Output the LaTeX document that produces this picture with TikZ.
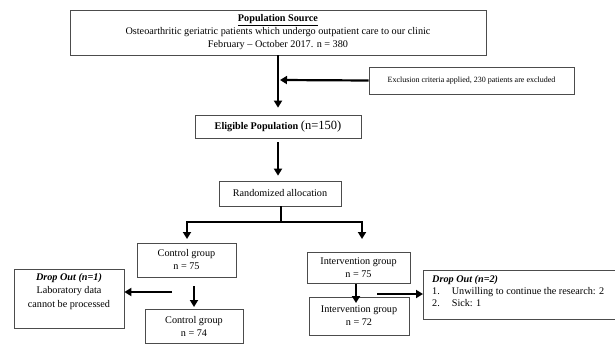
\documentclass[tikz,border=0pt]{standalone}
\usepackage{fontspec}
\setmainfont{Liberation Serif}
\usetikzlibrary{arrows.meta,calc}
\begin{document}
\begin{tikzpicture}[x=1pt,y=-1pt,
  box/.style={draw=black!70,line width=0.7pt,inner sep=2pt,align=center,font=\fontsize{10.2}{13}\selectfont},
  txt/.style={inner sep=0pt,font=\fontsize{10.2}{13.5}\selectfont},
  arr/.style={line width=2.2pt,-{Triangle[length=7pt,width=8pt]}},
  ln/.style={line width=2.2pt}]
\useasboundingbox (0,0) rectangle (615,345);
\node[box,minimum width=416pt,minimum height=45pt] (top) at (278,32.5)
  {\textbf{\underline{Population Source}}\\Osteoarthritic geriatric patients which undergo outpatient care to our clinic\\February – October 2017. n = 380};
\node[box,minimum width=205pt,minimum height=27pt,font=\fontsize{8.0}{9}\selectfont] (excl) at (471.5,80.5)
  {Exclusion criteria applied, 230 patients are excluded};
\node[box,minimum width=166pt,minimum height=23pt] (elig) at (278,126.5)
  {\textbf{Eligible Population} {\fontsize{12.5}{13}\selectfont(n=150)}};
\node[box,minimum width=122pt,minimum height=25pt] (rand) at (280,193.5) {Randomized allocation};
\node[box,minimum width=99pt,minimum height=34pt] (c1) at (186.5,260) {Control group\\n = 75};
\node[box,minimum width=98pt,minimum height=34pt] (c2) at (194,326) {Control group\\n = 74};
\node[box,minimum width=110pt,minimum height=59pt,anchor=north] (d1) at (69,269) {};
\node[txt,align=center,anchor=north] (d1t) at (69,273)
  {\textbf{\textit{Drop Out (n=1)}}\\Laboratory data\\cannot be processed};
\node[box,minimum width=103pt,minimum height=31pt] (i1) at (358.5,267.5) {Intervention group\\n = 75};
\node[box,minimum width=100pt,minimum height=38pt] (i2) at (359,316) {Intervention group\\n = 72};
\node[box,minimum width=195pt,minimum height=49pt,anchor=north west] (d2) at (423,270) {};
\node[txt,align=left,anchor=north west,font=\fontsize{10.2}{12}\selectfont] (d2t) at (432,275)
  {\textbf{\textit{Drop Out (n=2)}}\\1.\hspace{12pt}Unwilling to continue the research: 2\\2.\hspace{12pt}Sick: 1};
% connectors
\draw[arr,shorten >=7pt] (top.south) -- (elig.north);
\coordinate (ej) at (280,80);
\draw[arr] (excl.west) -- (ej);
\draw[arr,shorten <=4pt,shorten >=5pt] (elig.south) -- (rand.north -| elig.south);
\coordinate (rj) at (281,222);
\coordinate (lj) at (187,222);
\coordinate (rr) at (362,222);
\draw[ln] (rand.south -| rj) -- (rj);
\draw[arr,line join=miter] (rj) -- (lj) -- ++(0,17);
\draw[arr,line join=miter] (rj) -- (rr) -- ++(0,17);
\coordinate (ca) at (194,286);
\draw[arr] (ca) -- ++(0,21);
\coordinate (cl) at (172,292);
\draw[arr] (cl) -- (d1.east |- cl);
\coordinate (ia) at (356,284);
\draw[arr] (ia) -- ++(0,19);
\coordinate (ir) at (377,294);
\draw[arr] (ir) -- (d2.west |- ir);
\end{tikzpicture}
\end{document}
